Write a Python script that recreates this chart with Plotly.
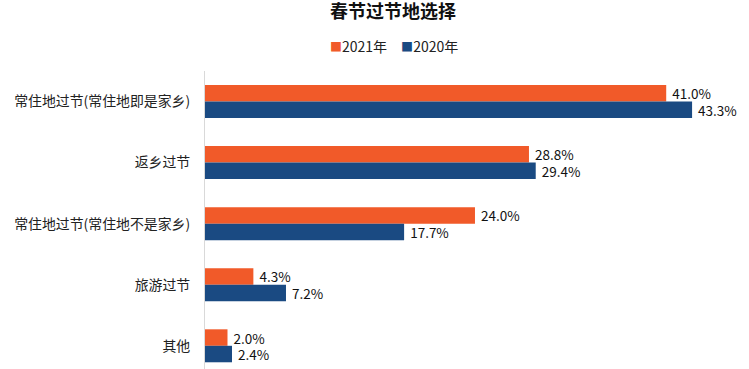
import plotly.graph_objects as go

categories = ["常住地过节(常住地即是家乡)", "返乡过节", "常住地过节(常住地不是家乡)", "旅游过节", "其他"]
values_2021 = [41.0, 28.8, 24.0, 4.3, 2.0]
values_2020 = [43.3, 29.4, 17.7, 7.2, 2.4]
series_names = ["2021年", "2020年"]
colors = ["#F15A29", "#1A4A82"]

font_family = "Noto Sans CJK SC, Microsoft YaHei, sans-serif"

fig = go.Figure()
for name, vals, col in zip(series_names, [values_2021, values_2020], colors):
    fig.add_trace(go.Bar(
        name=name,
        y=categories,
        x=vals,
        orientation="h",
        marker=dict(color=col, line=dict(width=0)),
        text=["\u00a0" + f"{v:.1f}%" for v in vals],
        textposition="outside",
        constraintext="none",
        textfont=dict(size=13.5, color="#111111", family=font_family),
        cliponaxis=False,
        hoverinfo="skip",
        showlegend=False,
    ))

# legend drawn as text annotations (colored square + label)
legend_text = "\u2003".join(
    f"<span style='color:{c};font-size:12px'>■</span>{n}" for n, c in zip(series_names, colors)
)
fig.add_annotation(
    text=legend_text, xref="paper", yref="paper",
    x=(394 - 205) / 544, y=1 + (71 - 46) / 298,
    xanchor="center", yanchor="middle", showarrow=False,
    font=dict(size=14, color="#222222", family=font_family),
)

fig.update_layout(
    width=749,
    height=369,
    margin=dict(l=205, r=0, t=71, b=0, autoexpand=False),
    paper_bgcolor="white",
    plot_bgcolor="white",
    barmode="group",
    bargap=0.46,
    bargroupgap=0,
    font=dict(family=font_family, size=13.5, color="#222222"),
    title=dict(
        text="<b>春节过节地选择</b>",
        x=393 / 749, xref="container", xanchor="center",
        y=1 - 12 / 369, yref="container", yanchor="middle",
        font=dict(size=18, color="#111111", family=font_family),
    ),
    showlegend=False,
    xaxis=dict(
        range=[0, 48.36],
        showgrid=False, zeroline=False, showticklabels=False,
        showline=False, ticks="", automargin=False,
    ),
    yaxis=dict(
        categoryorder="array",
        categoryarray=categories,
        range=[4.38, -0.5],
        showgrid=False, zeroline=False, automargin=False,
        showline=True, linecolor="#D9D9D9", linewidth=1,
        ticks="outside", ticklen=11, tickcolor="rgba(0,0,0,0)",
        tickfont=dict(size=13.9, color="#222222"),
    ),
)

fig.write_html(
    "out.html",
    config={"displayModeBar": False},
    post_script="document.body.style.margin='0';document.body.style.overflow='hidden';",
)
